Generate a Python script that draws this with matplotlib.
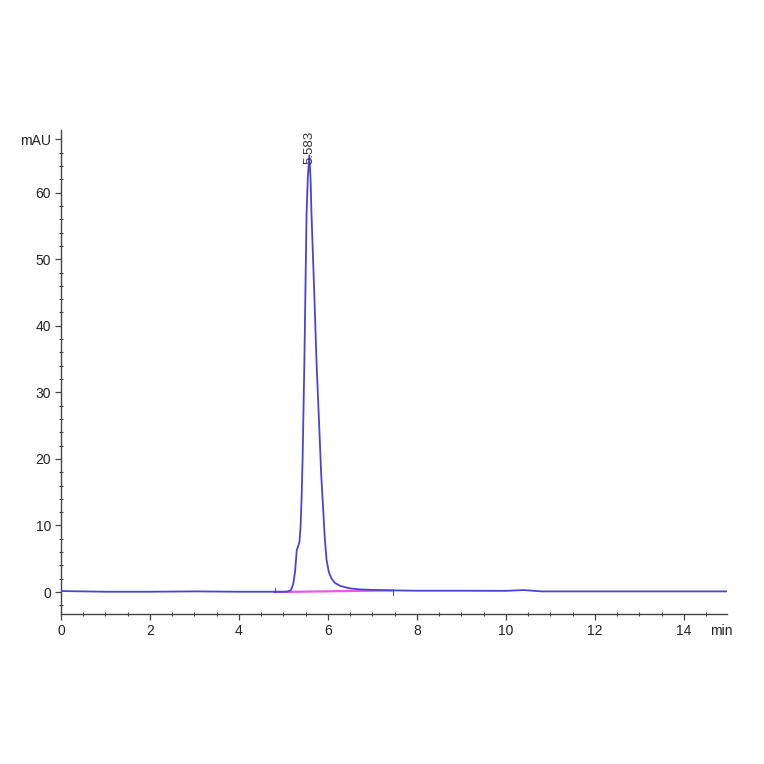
import numpy as np
import matplotlib.pyplot as plt

# chromatogram trace (time in min, signal in mAU)
time = [0.0, 0.5, 1.0, 2.0, 3.0, 4.0, 4.6, 4.8, 5.0, 5.1, 5.17, 5.22, 5.26,
        5.30, 5.36, 5.385, 5.41, 5.43, 5.47, 5.52, 5.55, 5.583, 5.61, 5.63,
        5.69, 5.745, 5.805, 5.85, 5.895, 5.93, 5.97, 6.02, 6.08, 6.15, 6.27,
        6.4, 6.5, 6.72, 7.0, 7.46, 8.0, 9.0, 10.0, 10.4, 10.6, 10.8, 12.0,
        14.0, 15.0]
signal = [0.15, 0.1, 0.05, 0.05, 0.1, 0.05, 0.05, 0.05, 0.05, 0.08, 0.3, 1.2,
          3.0, 6.3, 7.5, 9.8, 14.5, 19.8, 34.3, 56.9, 62.5, 65.6, 62.0, 56.9,
          45.5, 34.3, 24.8, 17.5, 12.3, 8.0, 4.8, 3.0, 2.05, 1.4, 0.95, 0.7,
          0.55, 0.4, 0.32, 0.25, 0.2, 0.2, 0.18, 0.3, 0.2, 0.1, 0.1, 0.1, 0.1]

# integration baseline under the main peak
base_t = [4.8, 7.46]
base_y = [0.0, 0.25]

peak_rt = 5.583
peak_h = 65.6

yticks = [0, 10, 20, 30, 40, 50, 60, 68]
ylabels = ['0', '10', '20', '30', '40', '50', '60', 'mAU']
xticks = [0, 2, 4, 6, 8, 10, 12, 14]
xlabels = ['0', '2', '4', '6', '8', '10', '12', '14']

plt.rcParams['font.family'] = ['Liberation Sans', 'DejaVu Sans']

fig = plt.figure(figsize=(7.64, 7.64), dpi=100)
ax = fig.add_axes([0.0798, 0.1963, 0.8718, 0.6335])

ax.plot(base_t, base_y, color='#ee55e8', lw=1.6, zorder=2)
ax.plot(time, signal, color='#4a44d4', lw=1.3, zorder=3)

# integration event markers
ax.plot([4.8, 4.8], [0.0, 0.6], color='#555555', lw=0.8)
ax.plot([7.46, 7.46], [0.25, -0.4], color='#555555', lw=0.8)

ax.text(peak_rt, 64.3, '5.583', rotation=90, ha='center', va='bottom',
        fontsize=9.5, color='#333333')

ax.set_xlim(0, 14.97)
ax.set_ylim(-3.3, 69.4)

ax.set_xticks(xticks)
ax.set_xticklabels(xlabels)
ax.set_yticks(yticks)
ax.set_yticklabels(ylabels)
ax.set_xticks(np.arange(0, 15, 0.5), minor=True)
ax.set_yticks(np.arange(-2, 69, 2), minor=True)

# unit label on the time axis, at the right end
ax.text(14.85, -0.021, 'min', transform=ax.get_xaxis_transform(),
        ha='center', va='top', fontsize=10, color='#222222')

for s in ['top', 'right']:
    ax.spines[s].set_visible(False)
for s in ['left', 'bottom']:
    ax.spines[s].set_color('#444444')
    ax.spines[s].set_linewidth(1.0)

ax.tick_params(which='major', direction='out', length=4, width=0.9,
               color='#444444', labelsize=10, labelcolor='#222222', pad=3)
ax.tick_params(which='minor', direction='inout', length=3, width=0.8,
               color='#444444')

fig.savefig('out.png', dpi=100)
